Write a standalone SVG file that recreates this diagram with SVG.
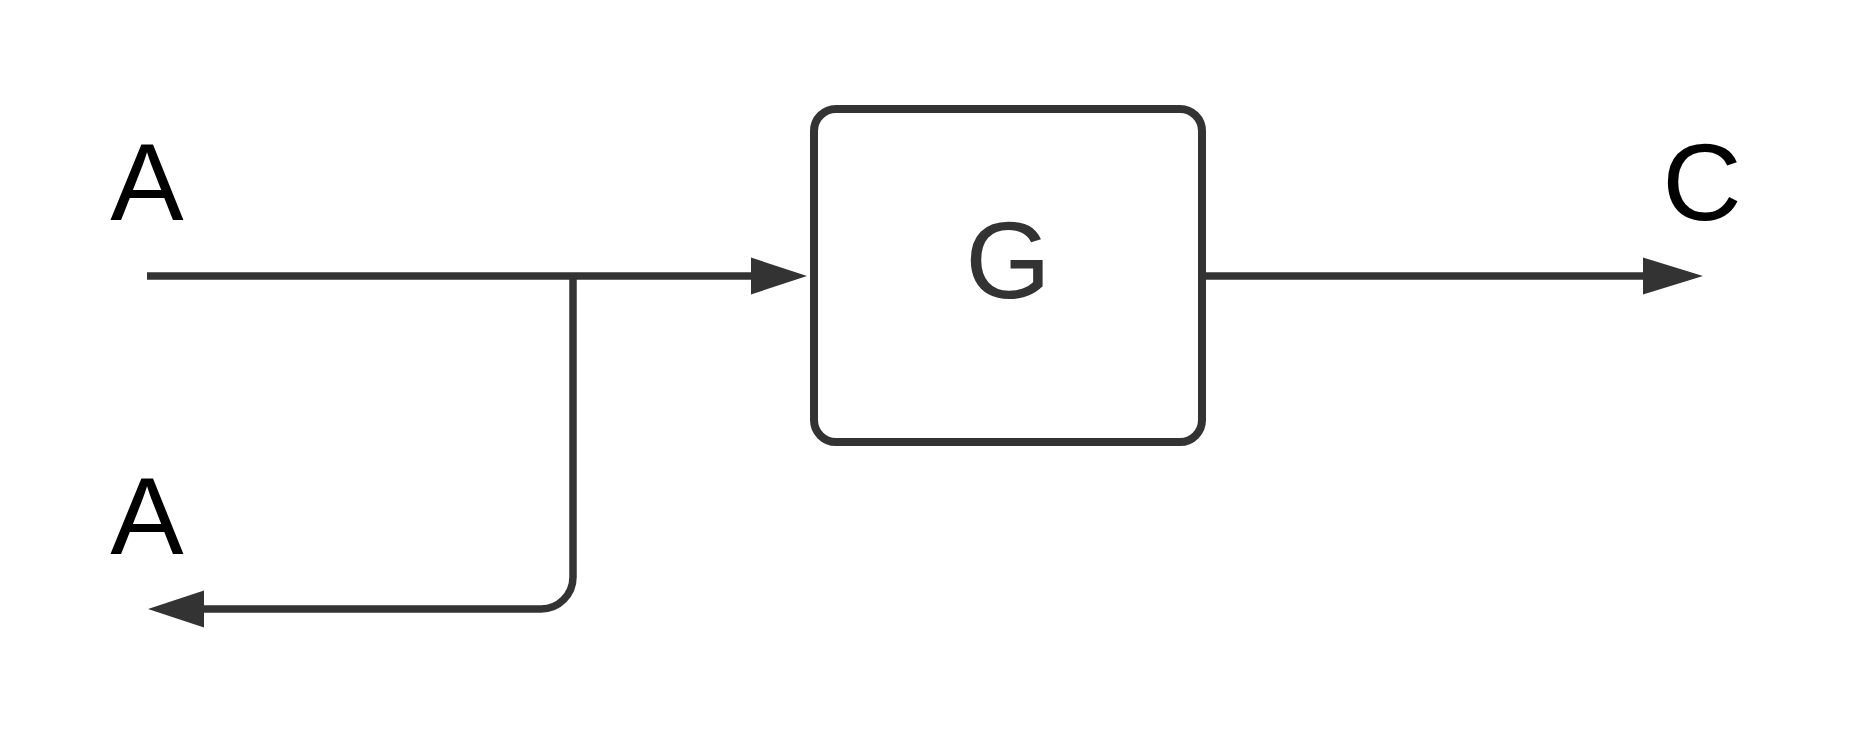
<svg xmlns="http://www.w3.org/2000/svg" width="1856" height="736" viewBox="0 0 1856 736">
  <style>
    .lbl { font-family: "Liberation Sans", Arial, sans-serif; font-size: 110px; fill: #000; text-anchor: middle; }
    .box { fill: #fff; stroke: #333; stroke-width: 8; }
    .wire { fill: none; stroke: #333; stroke-width: 7.5; }
    .head { fill: #333; }
  </style>
  <rect width="1856" height="736" fill="#fff"/>

  <g id="input-A">
    <text class="lbl" x="147" y="220">A</text>
  </g>
  <g id="feedback-A">
    <text class="lbl" x="147" y="554">A</text>
  </g>
  <g id="output-C">
    <text class="lbl" x="1702" y="220">C</text>
  </g>
  <g id="block-G">
    <rect class="box" x="814" y="109" width="388" height="333" rx="22" ry="22"/>
    <text class="lbl" x="1008" y="298" style="fill:#333">G</text>
  </g>

  <g id="connectors">
    <!-- input to G -->
    <path class="wire" d="M147,276 H751"/>
    <polygon class="head" points="751,257.5 807,276 751,294.5"/>
    <!-- branch back to A -->
    <path class="wire" d="M573,276 V577 A32,32 0 0 1 541,609 H204"/>
    <polygon class="head" points="204,590.5 148,609 204,627.5"/>
    <!-- G to C -->
    <path class="wire" d="M1206,276 H1643"/>
    <polygon class="head" points="1643,257.5 1703,276 1643,294.5"/>
  </g>
</svg>
